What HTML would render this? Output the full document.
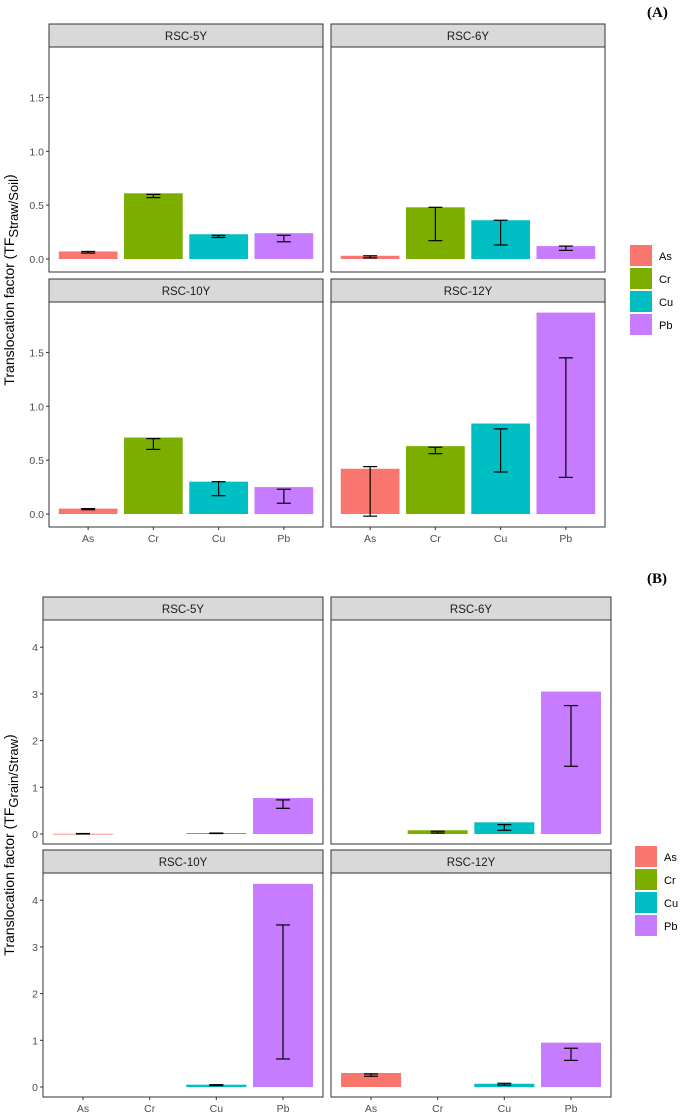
<!DOCTYPE html>
<html><head><meta charset="utf-8"><style>
body{margin:0;background:#fff;}
svg{display:block;font-family:"Liberation Sans",Arial,sans-serif;}
</style></head><body>
<svg id="chart" width="685" height="1117"></svg>
<script>
const metals = ["As","Cr","Cu","Pb"];
const colors = ["#F8766D","#7CAE00","#00BFC4","#C77CFF"];
const facets = ["RSC-5Y","RSC-6Y","RSC-10Y","RSC-12Y"];
// Chart A values (TF Straw/Soil)
const aVals = [[0.07,0.61,0.23,0.24],[0.03,0.48,0.36,0.12],[0.05,0.71,0.30,0.25],[0.42,0.63,0.84,1.87]];
const aLo = [[0.055,0.57,0.20,0.16],[0.01,0.17,0.13,0.08],[0.04,0.60,0.17,0.10],[-0.02,0.56,0.39,0.34]];
const aHi = [[0.07,0.60,0.22,0.22],[0.03,0.48,0.36,0.12],[0.05,0.70,0.30,0.23],[0.44,0.62,0.79,1.45]];
const aTicks = [0,0.5,1.0,1.5];
const aTickLabels = ["0.0","0.5","1.0","1.5"];
// Chart B values (TF Grain/Straw)
const bVals = [[0.005,0,0.02,0.77],[0,0.08,0.25,3.05],[0,0,0.05,4.35],[0.30,0,0.07,0.95]];
const bLo = [[0,0,0.01,0.55],[0,0.02,0.08,1.45],[0,0,0.03,0.60],[0.23,0,0.04,0.57]];
const bHi = [[0.01,0,0.02,0.73],[0,0.06,0.20,2.75],[0,0,0.05,3.47],[0.28,0,0.08,0.83]];
const bTicks = [0,1,2,3,4];
const bTickLabels = ["0","1","2","3","4"];

const NS="http://www.w3.org/2000/svg";
const svg=document.getElementById('chart');
function mk(tag,attrs,parent,text){const e=document.createElementNS(NS,tag);for(const k in attrs)e.setAttribute(k,attrs[k]);if(text!==undefined)e.textContent=text;(parent||svg).appendChild(e);return e;}

function drawChart(cfg){
  const g=mk('g',{});
  
  
  facets.forEach((f,fi)=>{
    const col=fi%2,row=Math.floor(fi/2);
    const x0=cfg.colX[col],x1=x0+cfg.panelW;
    const sTop=cfg.rowY[row],bTop=sTop+23,bBot=bTop+cfg.bodyH,zero=bBot-cfg.zeroOff;
    const ys=v=>zero-v*cfg.scale;
    const xs=i=>x0+(i+1-0.4)*cfg.panelW/4.2;
    const pg=mk('g',{},g);
    
    
    const strip=mk('rect',{x:x0,y:sTop,width:cfg.panelW,height:23,fill:'#D9D9D9',stroke:'#333','stroke-width':1},pg);
    
    
    const st=mk('text',{x:(x0+x1)/2,y:sTop+16,'text-anchor':'middle','font-size':11.5,fill:'#1a1a1a'},pg,f);
    
    
    metals.forEach((m,i)=>{
      const v=cfg.vals[fi][i];const bw=0.9*cfg.panelW/4.2;const cx=xs(i);
      if(v>0){
        const b=mk('rect',{x:cx-bw/2,y:ys(v),width:bw,height:Math.max(v*cfg.scale,0.8),fill:colors[i]},pg);
        
        
      }
      const lo=cfg.lo[fi][i],hi=cfg.hi[fi][i];
      if(!(lo===0&&hi===0)){
        const eg=mk('g',{stroke:'#000','stroke-width':1.2},pg);
        
        
        mk('line',{x1:cx,x2:cx,y1:ys(lo),y2:ys(hi)},eg);
        mk('line',{x1:cx-7,x2:cx+7,y1:ys(lo),y2:ys(lo)},eg);
        mk('line',{x1:cx-7,x2:cx+7,y1:ys(hi),y2:ys(hi)},eg);
      }
    });
    mk('rect',{x:x0,y:bTop,width:cfg.panelW,height:cfg.bodyH,fill:'none',stroke:'#333','stroke-width':1},pg);
    if(col===0){
      cfg.ticks.forEach((t,ti)=>{
        mk('line',{x1:x0-3,x2:x0,y1:ys(t),y2:ys(t),stroke:'#333'},pg);
        const tl=mk('text',{x:x0-5,y:ys(t)+4,'text-anchor':'end','font-size':10.5,fill:'#4d4d4d'},pg,cfg.tickLabels[ti]);
        
        
      });
    }
    if(row===1){
      metals.forEach((m,i)=>{
        mk('line',{x1:xs(i),x2:xs(i),y1:bBot,y2:bBot+3,stroke:'#333'},pg);
        const xl=mk('text',{x:xs(i),y:bBot+15,'text-anchor':'middle','font-size':10.5,fill:'#4d4d4d'},pg,m);
        
        
      });
    }
  });
  const yt=mk('text',{transform:`translate(${cfg.titleX},${cfg.titleY}) rotate(-90)`,'text-anchor':'middle','font-size':14,fill:'#000'},g);
  
  
  mk('tspan',{},yt,'Translocation factor (TF');
  mk('tspan',{dy:4,'font-size':13},yt,cfg.sub);
  mk('tspan',{dy:-4},yt,')');
  const lg=mk('g',{},g);
  
  
  metals.forEach((m,i)=>{
    const y=cfg.legY+i*23;
    const k=mk('rect',{x:cfg.legX,y:y,width:22,height:21,fill:colors[i]},lg);
    
    
    const t=mk('text',{x:cfg.legX+29,y:y+15,'font-size':11,fill:'#000'},lg,m);
    
    
  });
  const pl=mk('text',{x:cfg.labX,y:cfg.labY,'font-size':15,'font-weight':'bold','font-family':'Liberation Serif,serif',fill:'#000'},g,cfg.label);
  
  
}

drawChart({name:'chart-a',colX:[49,331],panelW:274,rowY:[24,279],bodyH:225,zeroOff:13,scale:107.7,
  vals:aVals,lo:aLo,hi:aHi,ticks:aTicks,tickLabels:aTickLabels,sub:'Straw/Soil',titleX:14,titleY:280,
  legX:630,legY:245,label:'(A)',labX:647,labY:17});
drawChart({name:'chart-b',colX:[43,331],panelW:280,rowY:[597,850],bodyH:224,zeroOff:10,scale:46.7,
  vals:bVals,lo:bLo,hi:bHi,ticks:bTicks,tickLabels:bTickLabels,sub:'Grain/Straw',titleX:14,titleY:845,
  legX:635,legY:846,label:'(B)',labX:647,labY:583});
</script>
</body></html>
